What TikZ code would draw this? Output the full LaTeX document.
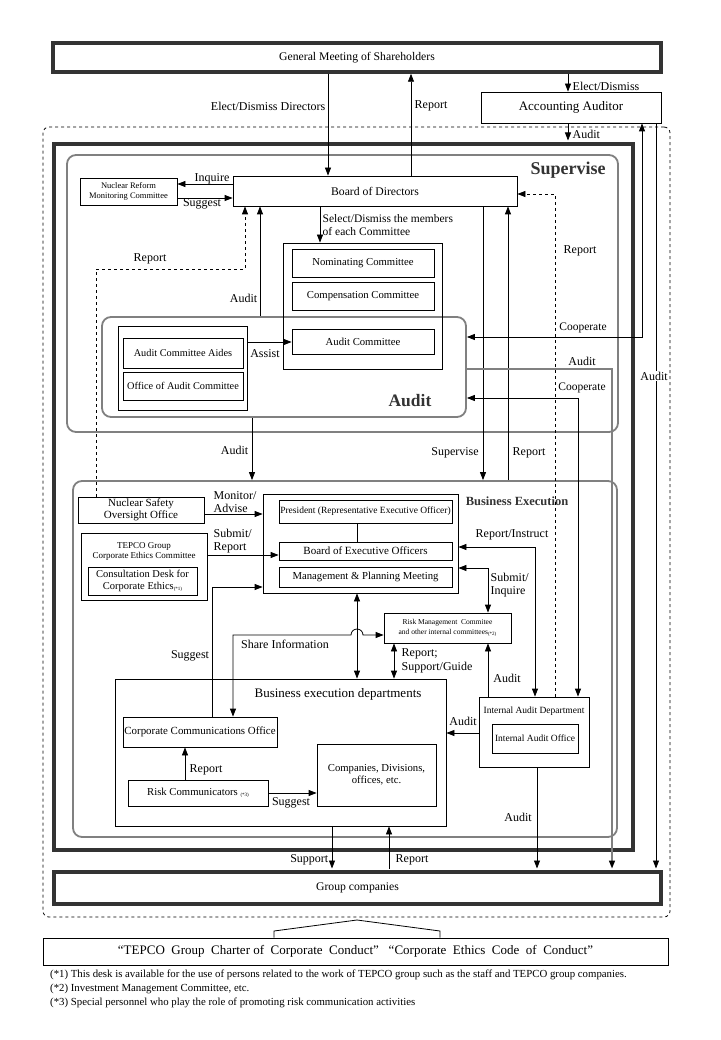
\documentclass[tikz,border=0pt]{standalone}
\usepackage{fontspec}
\setmainfont{Liberation Serif}
\usetikzlibrary{arrows.meta,calc}
\newcommand{\fs}[1]{\fontsize{#1}{#1}\selectfont}
\newcommand{\fnm}[1]{\raisebox{-1.5pt}{\fontsize{5}{6}\selectfont #1}}
\begin{document}
\begin{tikzpicture}[x=1pt,y=-1pt,
  box/.style={draw,line width=0.8pt,inner sep=0pt,align=center,font=\fontsize{10.7}{12}\selectfont},
  thickbox/.style={draw=black!80,line width=3.5pt,inner sep=0pt,align=center,font=\fontsize{11.7}{13}\selectfont},
  grayround/.style={draw=black!50,line width=1.8pt,rounded corners=9pt,inner sep=0pt},
  tip/.tip={Triangle[length=8pt,width=6pt,color=black]},
  arr/.style={-tip,line width=0.8pt},
  darr/.style={tip-tip,line width=0.8pt},
  lbl/.style={inner sep=0.5pt,font=\fontsize{12}{13.5}\selectfont},
  slbl/.style={inner sep=0.5pt,font=\fontsize{11.5}{13}\selectfont},
  ttl/.style={inner sep=0pt,font=\bfseries\fontsize{18}{20}\selectfont,text=black!80},
  fn/.style={anchor=west,inner sep=0pt,font=\fontsize{10.8}{11}\selectfont},
]
\fill[white] (0,0) rectangle (720,1040);
\path[use as bounding box] (0,0) rectangle (720,1040);

% ---- containers ----
\node[draw,dashed,line width=0.8pt,rounded corners=6pt,minimum width=627,minimum height=790] (Dash) at (356.5,522) {};
\node[thickbox,minimum width=579,minimum height=706] (Company) at (343.5,497) {};
\node[grayround,minimum width=551,minimum height=277] (Sup) at (342.5,293.5) {};
\node[grayround,minimum width=364,minimum height=100] (AuditBox) at (284,367) {};
\node[grayround,minimum width=544,minimum height=356] (BE) at (345,659) {};

\node[ttl] (tSup) at (568,170) {Supervise};
\node[ttl,font=\bfseries\fontsize{17.5}{20}\selectfont] (tAud) at (410,401) {Audit};
\node[ttl,font=\bfseries\fontsize{12.5}{14}\selectfont] (tBE) at (517,501) {Business Execution};

% ---- boxes ----
\node[thickbox,minimum width=608,minimum height=29] (GM) at (357,57.5) {General Meeting of Shareholders};
\node[box,minimum width=180,minimum height=31,font=\fs{13}] (AA) at (571,107.5) {Accounting Auditor};
\node[box,minimum width=284,minimum height=30,font=\fs{11.7}] (BoD) at (375,191) {Board of Directors};
\node[box,minimum width=97,minimum height=27,font=\fontsize{8.5}{9.5}\selectfont] (NRMC) at (128.5,191.5) {Nuclear Reform\\Monitoring Committee};
\node[box,minimum width=159,minimum height=126] (ComOuter) at (362.5,306) {};
\node[box,minimum width=142,minimum height=28] (Nom) at (363,263) {Nominating Committee};
\node[box,minimum width=142,minimum height=28] (Comp) at (363,296) {Compensation Committee};
\node[box,minimum width=142,minimum height=25] (AC) at (363,341.5) {Audit Committee};
\node[box,minimum width=129,minimum height=84] (AidesGrp) at (182.5,368) {};
\node[box,minimum width=120,minimum height=30,font=\fs{10.3}] (Aides) at (183,353) {Audit Committee Aides};
\node[box,minimum width=120,minimum height=28,font=\fs{10.3}] (Office) at (183,386) {Office of Audit Committee};

\node[box,minimum width=126,minimum height=26,font=\fontsize{11}{12.5}\selectfont] (NSOO) at (141,510) {Nuclear Safety\\Oversight Office};
\node[box,minimum width=126,minimum height=67] (TEPCO) at (144,566.5) {};
\node[inner sep=0pt,align=center,font=\fontsize{9}{10}\selectfont] (tTEPCO) at (144,551) {TEPCO Group\\Corporate Ethics Committee};
\node[box,minimum width=109,minimum height=28,font=\fontsize{10.5}{11.5}\selectfont] (Consult) at (142.5,581) {Consultation Desk for\\Corporate Ethics\fnm{(*1)}};
\node[box,minimum width=195,minimum height=99] (Exec) at (360.5,543.5) {};
\node[box,minimum width=173,minimum height=23,font=\fs{9.5}] (Pres) at (365.5,511.5) {President (Representative Executive Officer)};
\node[box,minimum width=173,minimum height=18,font=\fs{11}] (BoEO) at (365.5,551) {Board of Executive Officers};
\node[box,minimum width=173,minimum height=20] (MP) at (365.5,577) {Management \& Planning Meeting};
\node[box,minimum width=127,minimum height=30,font=\fontsize{7.5}{10}\selectfont] (RMC) at (447.5,628) {Risk Management\ \ Commitee\\and other internal committees\fnm{(*2)}};
\node[box,minimum width=331,minimum height=147] (BED) at (280.5,752.5) {};
\node[inner sep=0pt,font=\fs{13}] (tBED) at (338,694) {Business execution departments};
\node[box,minimum width=154,minimum height=30,font=\fs{10.9}] (CCO) at (200,732) {Corporate Communications Office};
\node[box,minimum width=119,minimum height=62] (Companies) at (376.5,775) {Companies, Divisions,\\offices, etc.};
\node[box,minimum width=140,minimum height=26] (RC) at (198,793) {Risk Communicators \fnm{(*3)}};
\node[box,minimum width=110,minimum height=70] (IAD) at (534,732) {};
\node[inner sep=0pt,font=\fs{9.5}] (tIAD) at (534,711) {Internal Audit Department};
\node[box,minimum width=86,minimum height=29,font=\fs{9.5}] (IAO) at (535,738.5) {Internal Audit Office};

\node[thickbox,minimum width=607,minimum height=32] (GC) at (357.5,888) {Group companies};
\node[box,minimum width=625,minimum height=27,font=\fs{13}] (Charter) at (355.5,951.5) {“TEPCO\ \ Group\ \ Charter\ of\ \ Corporate\ \ Conduct”\ \ \ “Corporate\ \ Ethics\ \ Code\ \ of\ \ Conduct”};

% ---- helper coordinates ----
\foreach \v in {96,185,212,233,245,252,260,274,320,328,332,357,389,394,411,440,483,488,508,535,537,555,568,578,612,642,656}
  {\coordinate (X\v) at (\v,0);}
\foreach \v in {184,194,198,269,337,342,369,398,514,547,555,568,587,635,733,793}
  {\coordinate (Y\v) at (0,\v);}
\coordinate (RoofL) at (274,931);
\coordinate (RoofT) at (357,920);
\coordinate (RoofR) at (440,931);

% ---- connectors ----
\draw[arr] (GM.south -| X328) -- (BoD.north -| X328);
\draw[arr] (BoD.north -| X411) -- (GM.south -| X411);
\draw[arr] (GM.south -| X568) -- (AA.north -| X568);
\draw[arr,shorten >=1.75pt] (AA.south -| X568) -- (Company.north -| X568);
\draw[arr] (BoD.west |- Y184) -- (NRMC.east |- Y184);
\draw[arr] (NRMC.east |- Y198) -- (BoD.west |- Y198);
\draw[arr] (BoD.south -| X320) -- (ComOuter.north -| X320);
\draw[arr] (AuditBox.north -| X260) -- (BoD.south -| X260);
\draw[arr] (AidesGrp.east |- Y342) -- (AC.west |- Y342);
\draw[arr,dashed] (NSOO.north -| X96) -- (X96 |- Y269) -- (X245 |- Y269) -- (BoD.south -| X245);
\draw[arr] (BoD.south -| X483) -- (BE.north -| X483);
\draw[arr] (BE.north -| X508) -- (BoD.south -| X508);
\draw[arr,dashed] (IAD.north -| X555) -- (X555 |- Y194) -- (BoD.east |- Y194);
\draw[darr] (AuditBox.east |- Y337) -- (X642 |- Y337) -- (AA.south -| X642);
\draw[arr,shorten >=1.75pt] (AA.south -| X656) -- (GC.north -| X656);
\draw[arr,draw=black!50,line width=1.5pt,shorten >=1.75pt] (AuditBox.east |- Y369) -- (X612 |- Y369) -- (GC.north -| X612);
\draw[darr] (AuditBox.east |- Y398) -- (X578 |- Y398) -- (IAD.north -| X578);
\draw[arr] (AuditBox.south -| X252) -- (BE.north -| X252);
\draw[arr] (NSOO.east |- Y514) -- (Exec.west |- Y514);
\draw[arr] (TEPCO.east |- Y555) -- (BoEO.west |- Y555);
\draw[arr] (CCO.north -| X212) -- (X212 |- Y587) -- (Exec.west |- Y587);
\draw[darr] (CCO.north -| X233) -- (X233 |- Y635) -- (351,635) arc (180:360:6) -- (RMC.west |- Y635);
\draw[darr] (Exec.south -| X357) -- (BED.north -| X357);
\draw[darr] (RMC.south -| X394) -- (BED.north -| X394);
\draw[darr] (Exec.east |- Y547) -- (X535 |- Y547) -- (IAD.north -| X535);
\draw[darr] (Exec.east |- Y568) -- (X488 |- Y568) -- (RMC.north -| X488);
\draw[arr] (IAD.north -| X488) -- (RMC.south -| X488);
\draw[arr] (IAD.west |- Y733) -- (BED.east |- Y733);
\draw[arr,shorten >=1.75pt] (IAD.south -| X537) -- (GC.north -| X537);
\draw[line width=0.8pt] (Pres.south -| X357) -- (BoEO.north -| X357);
\draw[arr] (RC.north -| X185) -- (CCO.south -| X185);
\draw[arr] (RC.east |- Y793) -- (Companies.west |- Y793);
\draw[arr,shorten >=1.75pt] (BED.south -| X332) -- (GC.north -| X332);
\draw[arr,shorten <=1.75pt] (GC.north -| X389) -- (BED.south -| X389);
\draw[line width=0.8pt] (Charter.north -| X274) -- (RoofL) -- (RoofT) -- (RoofR) -- (Charter.north -| X440);

% ---- labels ----
\node[lbl,anchor=east] (l1) at (326,106) {Elect/Dismiss Directors};
\node[lbl,anchor=west] (l2) at (414,106) {Report};
\node[lbl,anchor=west] (l3) at (572,86) {Elect/Dismiss};
\node[lbl,anchor=west] (l4) at (572,134) {Audit};
\node[lbl] (l5) at (212,179) {Inquire};
\node[lbl] (l6) at (202,204) {Suggest};
\node[slbl,anchor=west,align=left] (l7) at (322,225) {Select/Dismiss the members\\of each Committee};
\node[lbl,anchor=east] (l8) at (258,298) {Audit};
\node[lbl] (l9) at (265,354) {Assist};
\node[lbl] (l10) at (150,259) {Report};
\node[lbl] (l11) at (455,453) {Supervise};
\node[lbl] (l12) at (529,453) {Report};
\node[lbl] (l13) at (580,251) {Report};
\node[slbl] (l14) at (583,328) {Cooperate};
\node[lbl,fill=white] (l15) at (654,376) {Audit};
\node[lbl] (l16) at (582,361) {Audit};
\node[slbl] (l17) at (582,388) {Cooperate};
\node[lbl,anchor=east] (l18) at (249,450) {Audit};
\node[lbl,anchor=west,align=left] (l19) at (213,502) {Monitor/\\Advise};
\node[lbl,anchor=west,align=left] (l20) at (213,541) {Submit/\\Report};
\node[lbl] (l21) at (190,656) {Suggest};
\node[lbl] (l22) at (285,644) {Share Information};
\node[lbl,anchor=west,align=left] (l23) at (401,661) {Report;\\Support/Guide};
\node[lbl] (l24) at (512,535) {Report/Instruct};
\node[lbl,anchor=west,align=left] (l25) at (490,585) {Submit/\\Inquire};
\node[lbl] (l26) at (507,678) {Audit};
\node[lbl] (l27) at (463,721) {Audit};
\node[lbl] (l28) at (518,817) {Audit};
\node[lbl] (l29) at (206,770) {Report};
\node[lbl] (l30) at (291,803) {Suggest};
\node[lbl,anchor=east] (l31) at (329,860) {Support};
\node[lbl,anchor=west] (l32) at (395,860) {Report};

% ---- footnotes ----
\node[fn] (f1) at (50,975) {(*1) This desk is available for the use of persons related to the work of TEPCO group such as the staff and TEPCO group companies.};
\node[fn] (f2) at (50,989) {(*2) Investment Management Committee, etc.};
\node[fn] (f3) at (50,1003) {(*3) Special personnel who play the role of promoting risk communication activities};
\end{tikzpicture}
\end{document}
